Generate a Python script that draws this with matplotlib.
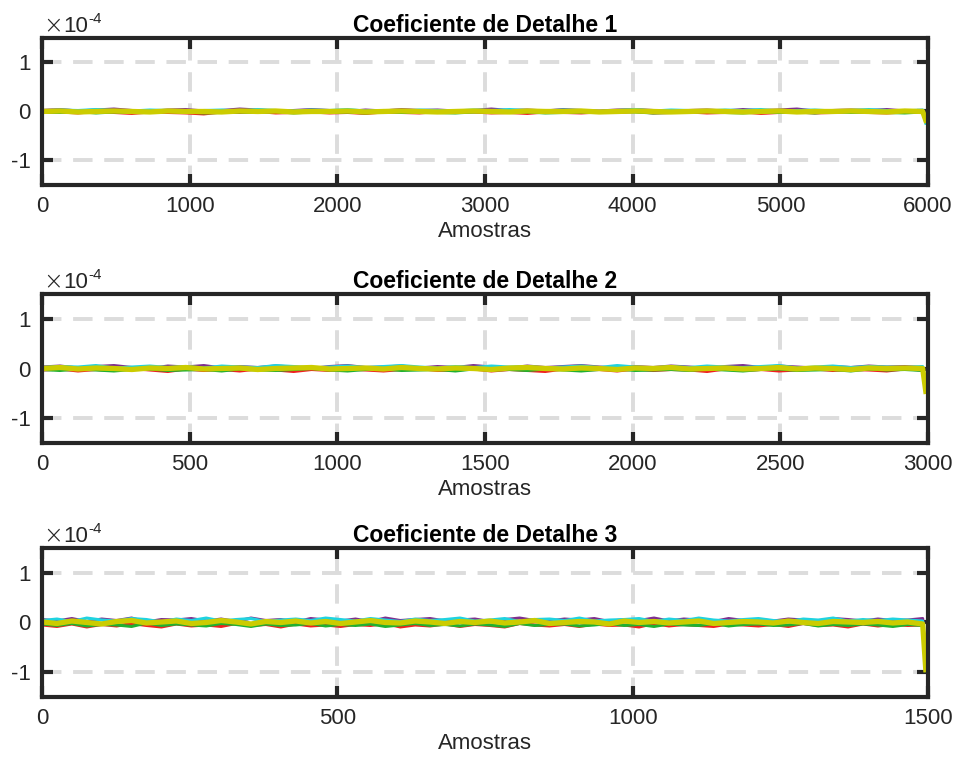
import numpy as np
import matplotlib
matplotlib.use('Agg')
import matplotlib.pyplot as plt

plt.rcParams['font.family'] = ['Liberation Sans', 'DejaVu Sans']
plt.rcParams['axes.unicode_minus'] = False

# valores em unidades de 1e-6 (0.01 x 10^-4); ultimo valor = queda no fim do sinal
titulos = ['Coeficiente de Detalhe 1', 'Coeficiente de Detalhe 2', 'Coeficiente de Detalhe 3']
n_amostras = [6000, 3000, 1500]
xticks_list = [[0, 1000, 2000, 3000, 4000, 5000, 6000],
               [0, 500, 1000, 1500, 2000, 2500, 3000],
               [0, 500, 1000, 1500]]

roxo1 = [2, 4, 1, 3, 5, 2, 0, 3, 4, 1, 2, 5, 3, 1, 2, 4, 2, 0, 3, 1, 4, 2, 3, 1, 2,
         5, 2, 3, 1, 4, 2, 1, 3, 4, 2, 0, 2, 3, 1, 4, 2, 3, 5, 1, 2, 3, 2, 4, 1, 2, -14]
ciano1 = [1, 3, 2, 4, 2, 1, 3, 2, 0, 2, 3, 1, 4, 2, 1, 3, 2, 4, 1, 2, 0, 3, 2, 1, 3,
          2, 4, 2, 1, 3, 2, 0, 2, 4, 1, 3, 2, 1, 3, 2, 4, 1, 2, 3, 1, 2, 4, 2, 1, 3, -24]
vermelho1 = [-2, -1, -3, 0, -2, -4, -1, -2, -3, -5, -1, -2, 0, -3, -2, -1, -3, -2, -4, -1,
             -2, -3, 0, -2, -1, -3, -2, -4, -1, -2, -3, -1, -2, 0, -3, -2, -1, -3, -2, -1,
             -4, -2, -1, -3, -2, 0, -2, -3, -1, -2, -16]
verde1 = [-1, -2, 0, -3, -1, -2, -2, 0, -1, -3, -2, -1, -2, 0, -3, -1, -2, -1, -3, 0,
          -2, -1, -2, -3, -1, 0, -2, -1, -3, -2, -1, -2, 0, -1, -3, -2, -1, 0, -2, -3,
          -1, -2, -1, -3, 0, -2, -1, -2, -3, -1, -20]
amarelo1 = [0, 1, -1, 0, 1, 0, -1, 1, 0, 0, -1, 1, 0, 1, -1, 0, 0, 1, -1, 0, 1, 0, -1, 0, 1,
            0, -1, 1, 0, 0, 1, -1, 0, 1, 0, -1, 0, 1, 0, -1, 0, 1, -1, 0, 0, 1, 0, -1, 1, 0, -18]

roxo2 = [3, 5, 1, 4, 6, 2, 0, 5, 3, 6, 1, 4, 2, 5, 3, 0, 4, 6, 2, 3, 5, 1, 4, 2, 6,
         3, 1, 5, 2, 4, 6, 3, 1, 4, 2, 5, 3, 0, 4, 6, 2, 5, 3, 1, 4, 2, 5, 3, 4, 2, -40]
ciano2 = [2, 4, 3, 6, 1, 3, 5, 2, 4, 1, 5, 3, 2, 6, 4, 1, 3, 5, 2, 4, 6, 3, 1, 4, 2,
          5, 3, 4, 1, 3, 5, 2, 6, 3, 1, 4, 2, 5, 3, 2, 4, 6, 1, 3, 5, 2, 4, 3, 2, 4, -44]
vermelho2 = [-3, -1, -5, -2, -4, 0, -3, -6, -1, -4, -2, -5, -1, -3, -6, -2, -4, -1, -3, -5,
             -2, 0, -4, -3, -1, -5, -2, -4, -6, -1, -3, -2, -5, -1, -4, -2, -3, -6, -1, -4,
             -2, -5, -3, -1, -4, -2, -3, -5, -1, -3, -42]
verde2 = [-2, -4, -1, -3, -5, -2, -1, -4, -3, -2, -5, -1, -3, -4, -2, 0, -3, -5, -2, -1,
          -4, -3, -2, -5, -1, -3, -2, -4, -1, -3, -5, -2, -1, -4, -3, -2, -4, -1, -3, -5,
          -2, -1, -4, -3, -2, -5, -1, -3, -2, -4, -48]
amarelo2 = [0, 2, -1, 1, 0, -2, 1, 0, 2, -1, 0, 1, -2, 0, 1, 2, -1, 0, 1, -1, 2, 0, -1, 1, 0,
            -2, 1, 2, 0, -1, 1, 0, -2, 1, 0, 2, -1, 0, 1, -1, 0, 2, -1, 1, 0, -2, 1, 0, 1, 0, -46]

roxo3 = [6, 3, 8, 2, 7, 4, 9, 1, 6, 5, 8, 3, 7, 2, 9, 4, 6, 1, 8, 5, 3, 7, 2, 9, 4,
         6, 8, 3, 5, 7, 2, 6, 9, 4, 3, 7, 5, 8, 2, 6, 4, 9, 3, 7, 5, 2, 8, 4, 6, 3,
         7, 5, 2, 8, 6, 3, 7, 4, 5, 8, -90]
ciano3 = [4, 7, 2, 9, 5, 3, 8, 6, 1, 7, 4, 9, 3, 6, 8, 2, 5, 7, 4, 9, 6, 3, 8, 5, 2,
          7, 4, 6, 9, 3, 5, 8, 2, 6, 7, 4, 9, 3, 5, 6, 8, 2, 7, 4, 9, 5, 3, 6, 8, 4,
          2, 7, 5, 9, 3, 6, 4, 7, 5, 3, -94]
vermelho3 = [-5, -8, -3, -9, -4, -7, -2, -6, -9, -3, -7, -5, -8, -2, -6, -4, -9, -3, -7, -5,
             -8, -4, -6, -2, -9, -5, -7, -3, -8, -4, -6, -9, -2, -5, -7, -4, -8, -3, -6, -5,
             -9, -2, -7, -4, -6, -8, -3, -5, -7, -4, -8, -2, -6, -5, -9, -3, -7, -4, -6, -5, -92]
verde3 = [-3, -6, -2, -7, -4, -5, -8, -1, -6, -3, -5, -7, -2, -4, -8, -3, -6, -5, -2, -7,
          -4, -6, -3, -8, -5, -2, -6, -4, -7, -3, -5, -8, -2, -6, -4, -3, -7, -5, -2, -6,
          -4, -8, -3, -5, -6, -2, -7, -4, -3, -6, -5, -2, -7, -4, -6, -3, -5, -8, -4, -6, -97]
amarelo3 = [1, -2, 3, 0, -3, 2, 4, -1, 1, 3, -2, 0, 4, 1, -3, 2, 0, 3, -1, 2, -2, 1, 4, 0, -1,
            3, 1, -2, 2, 0, 3, -1, 1, 4, -2, 0, 2, 1, -3, 3, 0, 2, -1, 1, 3, -2, 0, 2, 1, -1,
            3, 0, -2, 2, 1, 0, 2, -1, 1, -3, -95]

series = [
    [roxo1, ciano1, vermelho1, verde1, amarelo1],
    [roxo2, ciano2, vermelho2, verde2, amarelo2],
    [roxo3, ciano3, vermelho3, verde3, amarelo3],
]
cores = ['#7E2F8E', '#1FD3E0', '#F02020', '#20B030', '#CCCC00']
larguras = [2.2, 2.2, 2.2, 2.2, 3.8]

fig = plt.figure(figsize=(9.57, 7.67), dpi=100)
posicoes = [[0.0439, 0.7588, 0.9258, 0.1917],
            [0.0439, 0.4224, 0.9258, 0.1943],
            [0.0439, 0.0913, 0.9258, 0.1942]]

for i in range(3):
    ax = fig.add_axes(posicoes[i])
    n = n_amostras[i]
    for s, c, lw in zip(series[i], cores, larguras):
        v = np.array(s) * 1e-6
        x = np.append(np.linspace(0, n * 0.994, len(v) - 1), n * 0.9975)
        ax.plot(x, v, color=c, lw=lw, solid_joinstyle='round')
    ax.set_xlim(0, n)
    ax.set_ylim(-1.5e-4, 1.5e-4)
    ax.set_xticks(xticks_list[i])
    ax.set_yticks([-1e-4, 0, 1e-4])
    ax.set_yticklabels(['-1', '0', '1'])
    ax.set_axisbelow(True)
    ax.grid(True, ls=(0, (5, 3)), color='#dcdcdc', lw=2.8)
    for sp in ax.spines.values():
        sp.set_linewidth(3)
        sp.set_color('#262626')
    ax.tick_params(direction='in', length=8, width=3, top=True, right=True,
                   labelsize=16, colors='#262626', pad=8)
    ax.set_xlabel('Amostras', fontsize=16, color='#262626', labelpad=3)
    ax.set_title(titulos[i], fontsize=16.5, fontweight='bold', pad=4)
    ax.annotate('×', xy=(0, 1), xycoords='axes fraction', xytext=(1, 4),
                textcoords='offset points', fontsize=17, color='#262626',
                ha='left', va='baseline', family='DejaVu Sans', fontweight='light')
    ax.annotate('10', xy=(0, 1), xycoords='axes fraction', xytext=(15, 4),
                textcoords='offset points', fontsize=16, color='#262626',
                ha='left', va='baseline')
    ax.annotate('-4', xy=(0, 1), xycoords='axes fraction', xytext=(33.5, 11),
                textcoords='offset points', fontsize=11, color='#262626',
                ha='left', va='baseline')

fig.savefig('out.png', dpi=100)
